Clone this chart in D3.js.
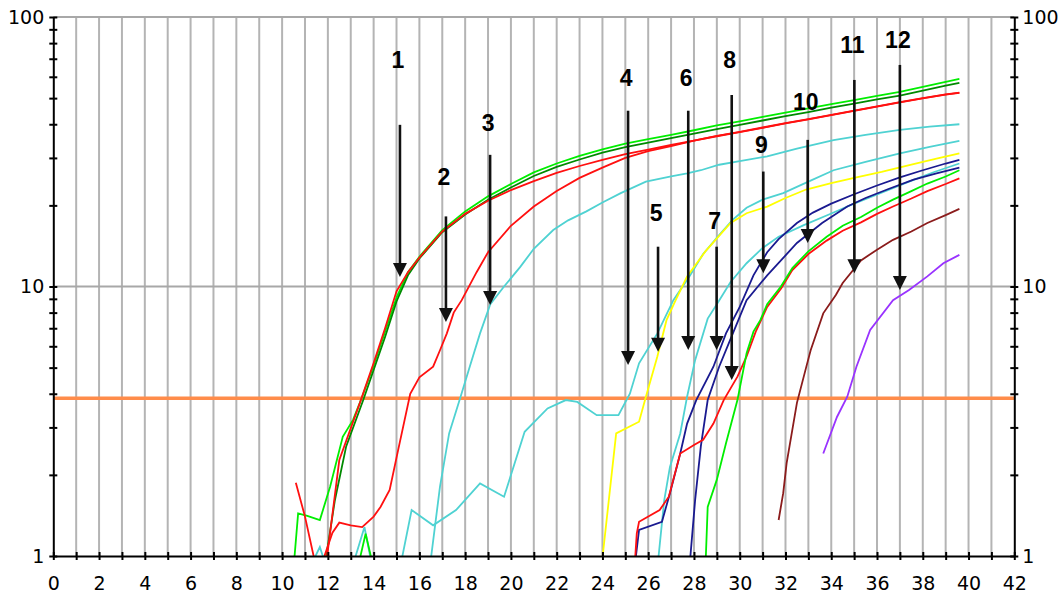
<!DOCTYPE html>
<html>
<head>
<meta charset="utf-8">
<title>Amplification plot</title>
<script src="https://cdn.jsdelivr.net/npm/d3@7"></script>
<style>
  body{ margin:0; background:#fff; }
  svg{ display:block; }
  .tick text{ font-family:"DejaVu Sans",sans-serif; font-size:19px; fill:#000; }
  .lbl{ font-family:"Liberation Sans",Arial,sans-serif; font-weight:bold; font-size:23px; fill:#000; }
</style>
</head>
<body>
<div id="chart"></div>
<script>
// cycle / fluorescence pairs
const lime1 = [[10.5,0.9],[10.7,1.44],[11.1,1.41],[11.65,1.36],[12.1,1.81],[12.65,2.77],[13.1,3.2],[13.5,3.9],[14,5.1],[14.5,6.8],[15,9.1],[15.5,11.3],[16,12.9],[17,16.2],[18,19],[19,21.6],[20,24],[21,26.5],[22,28.6],[23,30.5],[24,32.3],[25,33.9],[26,35.2],[27,36.5],[28,38],[29,39.6],[30,41],[31,42.6],[32,44.2],[33,45.8],[34,47.5],[35,49.2],[36,51],[37,52.7],[38,55],[39,57.4],[39.6,58.9]];
const darkGreen1 = [[11.85,0.9],[12.3,1.6],[12.8,2.55],[13.55,3.8],[14,4.9],[14.5,6.5],[15,8.8],[15.5,11],[16,12.7],[17,15.9],[18,18.5],[19,21],[20,23.3],[21,25.7],[22,27.8],[23,29.6],[24,31.4],[25,32.9],[26,34.2],[27,35.5],[28,36.9],[29,38.4],[30,39.8],[31,41.3],[32,42.9],[33,44.4],[34,46.1],[35,47.7],[36,49.5],[37,51.1],[38,53.3],[39,55.6],[39.6,57]];
const red1 = [[11.9,0.9],[12.5,2.27],[13.4,3.7],[14,5.2],[14.5,7],[15,9.6],[15.5,11.3],[16,12.8],[17,16],[18,18.6],[19,20.8],[20,22.8],[21,24.6],[22,26.4],[23,28],[24,29.5],[25,31],[26,32.2],[27,33.5],[28,34.8],[29,36.2],[30,37.5],[31,38.9],[32,40.4],[33,41.8],[34,43.3],[35,44.9],[36,46.6],[37,48.3],[38,50],[39,51.6],[39.6,52.4]];
const red2 = [[10.6,1.87],[11,1.4],[11.4,0.98],[11.6,0.9],[11.85,1.0],[12.2,1.22],[12.5,1.33],[13,1.3],[13.5,1.28],[14,1.4],[14.3,1.52],[14.7,1.76],[15.07,2.47],[15.6,4.0],[16,4.6],[16.6,5.04],[16.9,5.8],[17.2,6.7],[17.5,8.0],[17.85,8.9],[18.5,11.3],[19,13.4],[20,16.8],[21,19.8],[22,22.6],[23,25.3],[24,27.6],[25,30],[26,31.8],[27,33.2],[28,34.8],[29,36.1],[30,37.4],[31,38.8],[32,40.3],[33,41.7],[34,43.2],[35,44.8],[36,46.5],[37,48.2],[38,49.9],[39,51.5],[39.6,52.3]];
const cyan1 = [[16.45,0.9],[16.9,1.81],[17.3,2.85],[17.8,3.9],[18.2,5.04],[18.65,6.7],[19.1,8.6],[19.7,10],[20.4,11.8],[21,13.8],[21.85,16.2],[22.5,17.6],[23.3,19],[24,20.5],[24.8,22.2],[25.9,24.5],[27,25.6],[27.7,26.3],[28.3,27],[29.1,28.3],[30,29.2],[31.2,30.4],[32.5,32.5],[34.1,34.9],[35.5,36.5],[37,38.1],[38.3,39.2],[39.6,40]];
const cyan2 = [[11.2,0.9],[11.65,1.08],[11.95,0.9],[13.05,0.9],[13.6,1.28],[13.95,0.9],[15.15,0.9],[15.66,1.48],[16.6,1.3],[17.6,1.48],[18.65,1.86],[19.7,1.66],[20.6,2.89],[21.6,3.53],[22.4,3.79],[22.9,3.73],[23.75,3.33],[24.7,3.33],[25.2,4.0],[25.6,5.19],[26.4,6.7],[27.1,8.9],[27.8,10.9],[28.4,13.2],[29.1,15.5],[29.7,17.7],[30.3,19.6],[31,21],[31.9,22.2],[33,24.5],[34.1,27],[35.5,29],[37,31.2],[38.3,33],[39.6,34.7]];
const yellow1 = [[23.95,0.9],[24.6,2.85],[25.6,3.15],[25.9,3.9],[26.4,5.5],[26.8,7.5],[27.2,8.9],[27.7,10.9],[28.5,13.5],[29.6,17.2],[30.3,18.7],[31.2,19.8],[32,21.3],[32.9,22.9],[34,24.2],[35,25.3],[36.2,26.6],[37.5,28.3],[38.6,29.8],[39.6,31.2]];
const cyan3 = [[26.4,0.9],[26.7,1.61],[26.95,2.14],[27.4,2.85],[27.7,3.9],[28.05,5.33],[28.6,7.6],[29,8.6],[29.6,10.4],[30.3,12.2],[31,13.9],[31.7,15.3],[32.8,16.9],[33.9,18.5],[35,20.3],[36.2,22.3],[37.4,24.5],[38.5,26.6],[39.6,28.6]];
const navy1 = [[25.4,0.9],[25.6,1.25],[26.6,1.34],[26.95,1.71],[27.4,2.4],[27.7,3.1],[28.1,3.79],[28.85,5.04],[29.4,6.7],[30,8.4],[30.6,11],[31.2,13.4],[31.7,15],[32.5,17.2],[33.2,18.8],[34,20.3],[35,22],[36,23.7],[37,25.4],[38,27],[39,28.6],[39.6,29.5]];
const navy2 = [[27.8,0.9],[28.05,1.61],[28.3,2.55],[28.6,3.79],[29.1,5.04],[29.7,6.7],[30.3,8.9],[31.2,11],[32.5,14.5],[33.6,17.2],[34.7,19.8],[35.5,21.3],[36.5,23],[37.6,24.9],[38.6,26.3],[39.6,27.6]];
const red3 = [[25.4,0.9],[25.5,1.21],[25.6,1.34],[26.5,1.48],[26.9,1.66],[27.4,2.4],[28,2.58],[28.4,2.7],[28.85,3.1],[29.3,3.79],[29.9,4.63],[30.3,5.5],[30.7,6.8],[31.2,8.4],[31.8,9.8],[32.3,11.5],[33,13.2],[33.8,14.8],[34.5,16.1],[35.3,17.3],[36,18.6],[36.7,19.8],[37.5,21.2],[38.2,22.6],[39,24],[39.6,25.2]];
const lime3 = [[13.3,0.9],[13.65,1.21],[14.0,0.9],[28.5,0.9],[28.6,1.52],[29,1.92],[29.4,2.62],[29.9,3.79],[30.3,5.65],[30.6,6.8],[30.9,7.5],[31.2,8.6],[31.8,10],[32.3,11.7],[33,13.5],[33.8,15.3],[34.5,16.8],[35.3,18.1],[36,19.6],[36.7,21],[37.5,22.6],[38.2,24.1],[39,25.6],[39.6,27]];
const maroon1 = [[31.7,1.36],[31.9,1.71],[32.05,2.21],[32.5,3.7],[32.9,5.0],[33.1,5.8],[33.65,7.95],[34.2,9.3],[34.5,10.3],[35.3,12.5],[36,13.7],[36.7,14.9],[37.5,16],[38.2,17.2],[39,18.4],[39.6,19.4]];
const purple1 = [[33.65,2.4],[34.25,3.28],[34.7,3.9],[35.1,5.04],[35.7,6.9],[36.7,8.9],[37.4,9.7],[38.2,10.9],[38.9,12.2],[39.6,13.1]];

const threshold = 3.85;

// arrow annotations: cycle, top of shaft, tip, label position
const arrowLabels = ['1','2','3','4','5','6','7','8','9','10','11','12'];
const arrowCycle  = [15.15, 17.16, 19.09, 25.12, 26.43, 27.75, 28.99, 29.65, 31.03, 32.97, 35.01, 37.0];
const arrowTop    = [39.8, 18.2, 30.8, 44.9, 14.05, 44.9, 14.05, 51.4, 26.7, 35, 58.4, 66.4];
const arrowTip    = [10.85, 7.38, 8.54, 5.11, 5.73, 5.81, 5.81, 4.5, 11.2, 14.5, 11.2, 9.7];
const arrowText   = [69.3, 25.5, 40.4, 59.4, 18.8, 59.4, 17.5, 69.3, 33.6, 48.4, 78.7, 82.2];

const xTicks = d3.range(0, 43);
const yTicks = [1,2,3,4,5,6,7,8,9,10,20,30,40,50,60,70,80,90,100];
const yLabels = [1, 10, 100];

const series = [
  {d: lime1, c: '#00ee00'}, {d: darkGreen1, c: '#008a00'}, {d: red1, c: '#ff1010'},
  {d: red2, c: '#ff1010'}, {d: cyan1, c: '#4fd2d2'}, {d: cyan2, c: '#4fd2d2'},
  {d: yellow1, c: '#ffff00'}, {d: cyan3, c: '#4fd2d2'}, {d: navy1, c: '#1a1a90'},
  {d: navy2, c: '#1a1a90'}, {d: red3, c: '#ff1010'}, {d: lime3, c: '#00ee00'},
  {d: maroon1, c: '#8b1c1c'}, {d: purple1, c: '#9933ff'}
];

const [w, h] = [1060, 597];
const x = d3.scaleLinear().domain([0, 42]).range([53.3, 1014.3]);
const y = d3.scaleLog().domain([1, 100]).range([556, 17]);

const svg = d3.select('#chart').append('svg').attr('width', w).attr('height', h);

svg.append('clipPath').attr('id', 'plot')
  .append('rect')
  .attr('x', x(0)).attr('y', y(100))
  .attr('width', x(42) - x(0)).attr('height', y(1) - y(100));

// grid
svg.append('g').selectAll('line').data(d3.range(1, 42)).join('line')
  .attr('x1', d => x(d)).attr('x2', d => x(d))
  .attr('y1', y(100)).attr('y2', y(1))
  .attr('stroke', '#b4b4b4').attr('stroke-width', 2);
svg.append('g').selectAll('line').data([10, 100]).join('line')
  .attr('x1', x(0)).attr('x2', x(42))
  .attr('y1', d => y(d)).attr('y2', d => y(d))
  .attr('stroke', '#a8a8a8').attr('stroke-width', 2);

// threshold
svg.append('line')
  .attr('x1', x(0)).attr('x2', x(42))
  .attr('y1', y(threshold)).attr('y2', y(threshold))
  .attr('stroke', '#ff8c4a').attr('stroke-width', 3.5);

// curves
const line = d3.line().x(d => x(d[0])).y(d => y(d[1]));
svg.append('g').attr('clip-path', 'url(#plot)')
  .selectAll('path').data(series).join('path')
  .attr('d', s => line(s.d))
  .attr('fill', 'none')
  .attr('stroke', s => s.c)
  .attr('stroke-width', 1.8);

// axes
const xAxis = d3.axisBottom(x).tickValues(xTicks)
  .tickFormat(d => d % 2 === 0 ? d : '').tickSizeOuter(0);
svg.append('g').attr('transform', `translate(0,${y(1)})`).call(xAxis)
  .call(g => g.select('.domain').attr('stroke', '#000').attr('stroke-width', 2))
  .call(g => g.selectAll('.tick line').attr('y1', -4).attr('y2', 4).attr('stroke-width', 2))
  .call(g => g.selectAll('.tick text').attr('y', 21));

const yAxisL = d3.axisLeft(y).tickValues(yTicks)
  .tickFormat(d => yLabels.includes(d) ? d : '').tickSizeOuter(0);
svg.append('g').attr('transform', `translate(${x(0)},0)`).call(yAxisL)
  .call(g => g.select('.domain').attr('stroke', '#000').attr('stroke-width', 2))
  .call(g => g.selectAll('.tick line').attr('x1', -4).attr('x2', 4).attr('stroke-width', 2))
  .call(g => g.selectAll('.tick text').attr('x', -9));

const yAxisR = d3.axisRight(y).tickValues(yTicks)
  .tickFormat(d => yLabels.includes(d) ? d : '').tickSizeOuter(0);
svg.append('g').attr('transform', `translate(${x(42)},0)`).call(yAxisR)
  .call(g => g.select('.domain').attr('stroke', '#000').attr('stroke-width', 2))
  .call(g => g.selectAll('.tick line').attr('x1', -4).attr('x2', 4).attr('stroke-width', 2))
  .call(g => g.selectAll('.tick text').attr('x', 8));

// arrows
const arrows = svg.append('g');
arrowLabels.forEach((t, i) => {
  const ax = x(arrowCycle[i]);
  const tip = y(arrowTip[i]);
  arrows.append('line')
    .attr('x1', ax).attr('x2', ax)
    .attr('y1', y(arrowTop[i])).attr('y2', tip - 10)
    .attr('stroke', '#111').attr('stroke-width', 2.6);
  arrows.append('path')
    .attr('d', `M${ax - 7},${tip - 14}L${ax + 7},${tip - 14}L${ax},${tip}Z`)
    .attr('fill', '#111');
  arrows.append('text').attr('class', 'lbl')
    .attr('x', ax - 2).attr('y', y(arrowText[i]))
    .attr('text-anchor', 'middle')
    .attr('dominant-baseline', 'central')
    .text(t);
});
</script>
</body>
</html>
